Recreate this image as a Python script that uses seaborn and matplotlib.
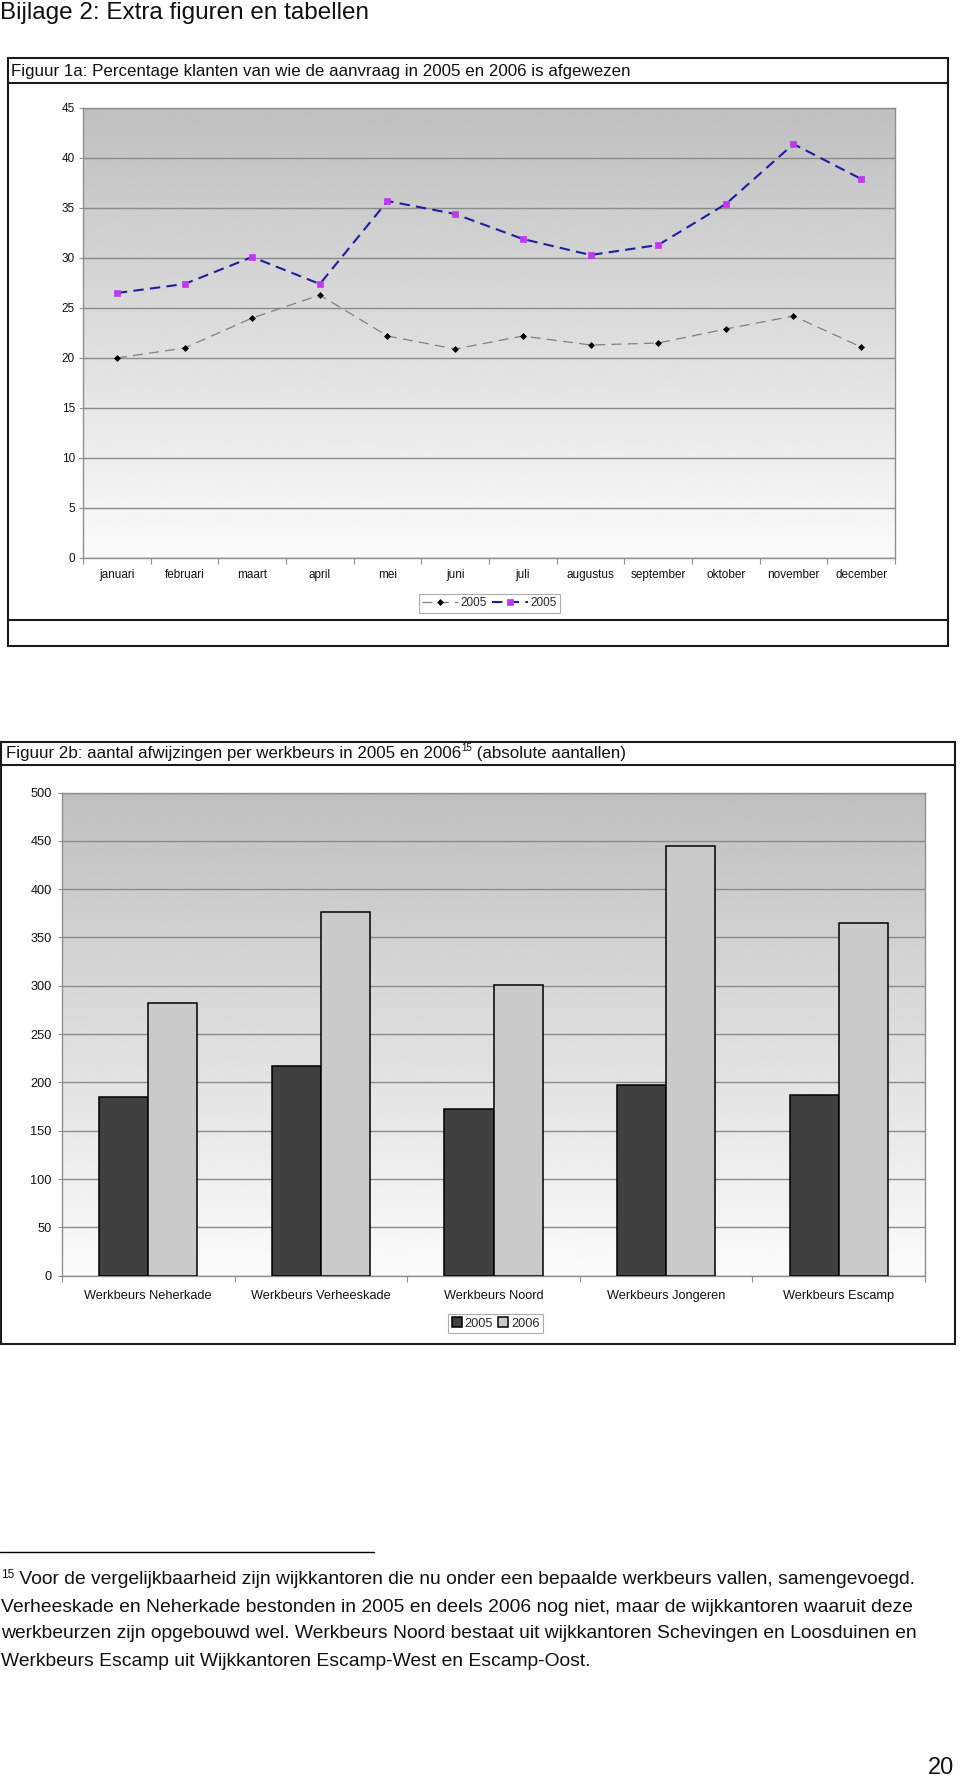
import numpy as np
import pandas as pd
import matplotlib
matplotlib.use("Agg")
import matplotlib.pyplot as plt
import seaborn as sns
from matplotlib.patches import Rectangle

# ---------------- data ----------------
months = ["januari", "februari", "maart", "april", "mei", "juni", "juli",
          "augustus", "september", "oktober", "november", "december"]
series_a = [20.0, 21.0, 24.0, 26.3, 22.2, 20.9, 22.2, 21.3, 21.5, 22.9, 24.2, 21.1]
series_b = [26.5, 27.4, 30.1, 27.4, 35.7, 34.4, 31.9, 30.3, 31.3, 35.4, 41.4, 37.9]
legend_labels_1 = ["2005", "2005"]
yticks_1 = list(range(0, 46, 5))

werkbeurzen = ["Werkbeurs Neherkade", "Werkbeurs Verheeskade", "Werkbeurs Noord",
               "Werkbeurs Jongeren", "Werkbeurs Escamp"]
years = ["2005", "2006"]
values_2005 = [185, 217, 172, 197, 187]
values_2006 = [282, 376, 301, 445, 365]
yticks_2 = list(range(0, 501, 50))

page_title = "Bijlage 2: Extra figuren en tabellen"
title_1 = "Figuur 1a: Percentage klanten van wie de aanvraag in 2005 en 2006 is afgewezen"
title_2a = "Figuur 2b: aantal afwijzingen per werkbeurs in 2005 en 2006"
title_2b = " (absolute aantallen)"
footnote_lines = [
    " Voor de vergelijkbaarheid zijn wijkkantoren die nu onder een bepaalde werkbeurs vallen, samengevoegd.",
    "Verheeskade en Neherkade bestonden in 2005 en deels 2006 nog niet, maar de wijkkantoren waaruit deze",
    "werkbeurzen zijn opgebouwd wel. Werkbeurs Noord bestaat uit wijkkantoren Schevingen en Loosduinen en",
    "Werkbeurs Escamp uit Wijkkantoren Escamp-West en Escamp-Oost.",
]

# ---------------- setup ----------------
sns.set_theme(style="white")
plt.rcParams["font.family"] = ["Liberation Sans", "DejaVu Sans"]

W, H = 960, 1786
fig = plt.figure(figsize=(W / 100, H / 100), dpi=100)
fig.patch.set_facecolor("white")


def rect(l, t, r, b):
    return [l / W, 1 - b / H, (r - l) / W, (b - t) / H]


bg = fig.add_axes([0, 0, 1, 1])
bg.set_xlim(0, W)
bg.set_ylim(H, 0)
bg.axis("off")

BOXC = "#1a1a1a"
TXT = "#111111"
# figure 1 box
bg.add_patch(Rectangle((7.5, 58), 940.5, 588, fill=False, ec=BOXC, lw=1.5))
bg.plot([7.5, 948], [83, 83], color=BOXC, lw=1.5)
bg.plot([7.5, 948], [620, 620], color=BOXC, lw=1.5)
# figure 2 box
bg.add_patch(Rectangle((1, 741.5), 954, 602, fill=False, ec=BOXC, lw=1.5))
bg.plot([1, 955], [765, 765], color=BOXC, lw=1.5)
# footnote rule
bg.plot([0, 374], [1551.5, 1551.5], color="black", lw=1.0)

bg.text(0, 13, page_title, fontsize=17.5, va="center", ha="left", color=TXT)
bg.text(11, 71.5, title_1, fontsize=12.2, va="center", ha="left", color=TXT)
t2a = bg.text(6, 753.5, title_2a, fontsize=12.2, va="center", ha="left", color=TXT)
t2s = bg.annotate("15", xy=(1, 0.55), xycoords=t2a, fontsize=7, va="bottom", ha="left",
                  color=TXT)
bg.annotate(title_2b, xy=(1, 0.5), xycoords=(t2s, t2a), fontsize=12.2, va="center",
            ha="left", color=TXT)

fs_note = 13.85
fn_y = [1579, 1607, 1634, 1661]
tfs = bg.text(1, fn_y[0] - 4, "15", fontsize=8.5, va="center", ha="left", color=TXT)
bg.annotate(footnote_lines[0], xy=(1, fn_y[0]), xycoords=(tfs, "data"),
            fontsize=fs_note, va="center", ha="left", color=TXT, annotation_clip=False)
for yy, line in zip(fn_y[1:], footnote_lines[1:]):
    bg.text(1, yy, line, fontsize=fs_note, va="center", ha="left", color=TXT)
bg.text(954, 1768, "20", fontsize=17, va="center", ha="right", color=TXT)

grad = np.linspace(0.75, 0.985, 256).reshape(-1, 1)
GRIDC = "#8a8a8a"
SPC = "#8f8f8f"


def style_axes(ax, ncat, yticks, tick_fs, ytick_pad, xbase_pad):
    ax.imshow(grad, cmap="gray", vmin=0, vmax=1, aspect="auto", extent=(0, 1, 0, 1),
              origin="upper", transform=ax.transAxes, zorder=0, interpolation="bicubic")
    ax.set_xlim(-0.5, ncat - 0.5)
    ax.set_ylim(yticks[0], yticks[-1])
    ax.set_yticks(yticks)
    ax.yaxis.grid(True, color=GRIDC, lw=1.0)
    ax.xaxis.grid(False)
    ax.set_axisbelow(True)
    for s in ax.spines.values():
        s.set_visible(True)
        s.set_color(SPC)
        s.set_linewidth(1.0)
    ax.set_xlabel("")
    ax.set_ylabel("")
    ax.set_xticks(range(ncat))
    ax.set_xticks(np.arange(-0.5, ncat, 1), minor=True)
    ax.tick_params(axis="x", which="major", length=0, pad=xbase_pad, labelsize=tick_fs,
                   labelcolor=TXT)
    ax.tick_params(axis="x", which="minor", length=4, width=0.8, color=SPC, direction="out",
                   bottom=True)
    ax.tick_params(axis="y", length=3, width=0.8, color=SPC, direction="out", left=True,
                   pad=ytick_pad, labelsize=tick_fs, labelcolor=TXT)
    for lbl in ax.get_xticklabels():
        lbl.set_verticalalignment("baseline")


# ---------------- chart 1 ----------------
ax1 = fig.add_axes(rect(83, 108, 895, 558))
df1 = pd.DataFrame({"maand": months, "a": series_a, "b": series_b})
sns.lineplot(data=df1, x="maand", y="a", ax=ax1, sort=False, color="#808080", lw=0.9,
             linestyle=(0, (8, 5)), marker="D", markersize=3.0, markerfacecolor="black",
             markeredgecolor="black", markeredgewidth=0.5, label=legend_labels_1[0], zorder=3)
sns.lineplot(data=df1, x="maand", y="b", ax=ax1, sort=False, color="#1f1f9e", lw=1.5,
             linestyle=(0, (5, 3)), marker="s", markersize=4.0, markerfacecolor="#c038f0",
             markeredgecolor="#c038f0", markeredgewidth=0.5, label=legend_labels_1[1], zorder=4)
style_axes(ax1, len(months), yticks_1, 8.5, 2.8, 14.2)
h1, l1 = ax1.get_legend_handles_labels()
leg1 = ax1.legend(h1, l1, loc="center", bbox_to_anchor=(489.5 / W, 1 - 603.5 / H),
                  bbox_transform=fig.transFigure, ncol=2, fontsize=8.5, frameon=True,
                  fancybox=False, shadow=False, handlelength=3.0, handletextpad=0.2,
                  columnspacing=0.5, borderpad=0.3, borderaxespad=0)
leg1.get_frame().set_edgecolor("#999999")
leg1.get_frame().set_linewidth(0.8)

# ---------------- chart 2 ----------------
ax2 = fig.add_axes(rect(62, 792.5, 925, 1275.7))
df2 = pd.DataFrame({
    "werkbeurs": werkbeurzen * 2,
    "jaar": [years[0]] * len(werkbeurzen) + [years[1]] * len(werkbeurzen),
    "aantal": values_2005 + values_2006,
})
sns.barplot(data=df2, x="werkbeurs", y="aantal", hue="jaar", hue_order=years,
            palette={"2005": "#404040", "2006": "#cacaca"}, width=0.57, gap=0,
            saturation=1, edgecolor="black", linewidth=1.1, ax=ax2, zorder=3,
            errorbar=None)
style_axes(ax2, len(werkbeurzen), yticks_2, 9.2, 4.3, 16.5)
h2, l2 = ax2.get_legend_handles_labels()
leg2 = ax2.legend(h2, l2, loc="center", bbox_to_anchor=(495.5 / W, 1 - 1323.5 / H),
                  bbox_transform=fig.transFigure, ncol=2, fontsize=9.2, frameon=True,
                  fancybox=False, shadow=False, handlelength=0.8, handleheight=0.8,
                  handletextpad=0.2, columnspacing=0.4, borderpad=0.3, borderaxespad=0)
leg2.get_frame().set_edgecolor("#999999")
leg2.get_frame().set_linewidth(0.8)

fig.savefig("out.png", dpi=100, facecolor="white")
